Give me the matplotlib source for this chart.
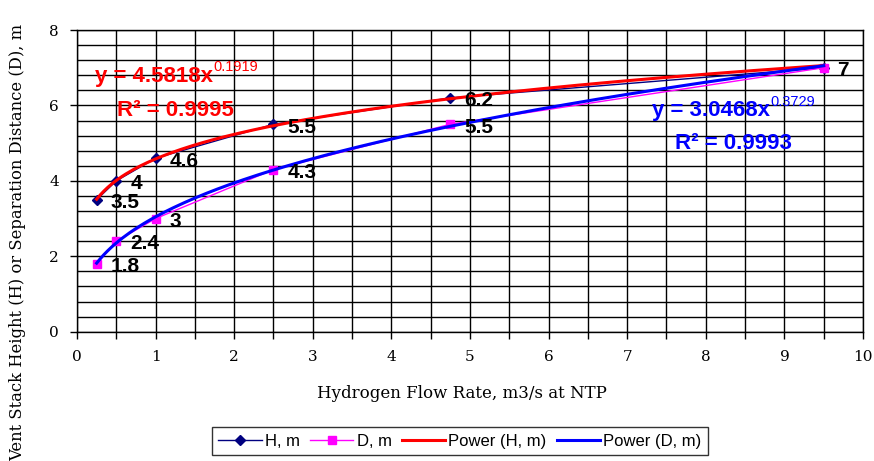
import numpy as np
import matplotlib.pyplot as plt
from matplotlib.ticker import MultipleLocator

# data
flow = [0.25, 0.5, 1, 2.5, 4.75, 9.5]
height_h = [3.5, 4, 4.6, 5.5, 6.2, 7]
dist_d = [1.8, 2.4, 3, 4.3, 5.5, 7]
h_labels = ["3.5", "4", "4.6", "5.5", "6.2", "7"]
d_labels = ["1.8", "2.4", "3", "4.3", "5.5", ""]

serif = "DejaVu Serif"
sans = "Liberation Sans"

fig = plt.figure(figsize=(8.74, 4.61), dpi=100)
ax = fig.add_axes([0.0881, 0.2805, 0.8993, 0.6544])

ax.plot(flow, height_h, color="#000080", lw=1, marker="D", ms=5, label="H, m")
ax.plot(flow, dist_d, color="#ff00ff", lw=1, marker="s", ms=6, label="D, m")

# power trendlines, fitted on log-log like excel does
xs = np.linspace(min(flow), max(flow), 200)
bh, lah = np.polyfit(np.log(flow), np.log(height_h), 1)
bd, lad = np.polyfit(np.log(flow), np.log(dist_d), 1)
ax.plot(xs, np.exp(lah) * xs ** bh, color="red", lw=2.2, label="Power (H, m)")
ax.plot(xs, np.exp(lad) * xs ** bd, color="blue", lw=2.2, label="Power (D, m)")

# data labels
for x, y, s in zip(flow, height_h, h_labels):
    ax.annotate(s, (x, y), xytext=(10, -2), textcoords="offset points",
                ha="left", va="center", fontsize=15, fontweight="bold", family=sans)
for x, y, s in zip(flow, dist_d, d_labels):
    if s:
        ax.annotate(s, (x, y), xytext=(10, -2), textcoords="offset points",
                    ha="left", va="center", fontsize=15, fontweight="bold", family=sans)

# equations
t1 = ax.text(0.23, 6.77, "y = 4.5818x", color="red", fontsize=16, fontweight="bold",
             family=sans, va="center", ha="left")
ax.annotate("0.1919", xy=(1, 0.6), xycoords=t1, va="bottom", ha="left",
            color="red", fontsize=10.5, family=sans)
ax.text(0.51, 5.86, "R² = 0.9995", color="red", fontsize=16, fontweight="bold",
        family=sans, va="center", ha="left")
t2 = ax.text(7.32, 5.86, "y = 3.0468x", color="blue", fontsize=16, fontweight="bold",
             family=sans, va="center", ha="left")
ax.annotate("0.3729", xy=(1, 0.6), xycoords=t2, va="bottom", ha="left",
            color="blue", fontsize=10.5, family=sans)
ax.text(7.61, 5.0, "R² = 0.9993", color="blue", fontsize=16, fontweight="bold",
        family=sans, va="center", ha="left")

ax.set_xlim(0, 10)
ax.set_ylim(0, 8)
ax.xaxis.set_major_locator(MultipleLocator(1))
ax.xaxis.set_minor_locator(MultipleLocator(0.5))
ax.yaxis.set_major_locator(MultipleLocator(2))
ax.yaxis.set_minor_locator(MultipleLocator(0.4))
ax.grid(True, which="both", color="black", lw=1)
ax.set_axisbelow(True)
ax.tick_params(axis="x", which="both", direction="out", length=5, width=1)
ax.tick_params(axis="y", which="major", direction="out", length=5, width=1)
ax.tick_params(axis="y", which="minor", length=0)
ax.tick_params(labelsize=11, pad=8)
for lab in ax.get_xticklabels() + ax.get_yticklabels():
    lab.set_family(serif)
for sp in ax.spines.values():
    sp.set_color("black")
    sp.set_linewidth(1)

fig.text(462 / 874, 1 - 393 / 461, "Hydrogen Flow Rate, m3/s at NTP", family=serif,
         fontsize=12, ha="center", va="center")
fig.text(18 / 874, 1 - 242 / 461, "Vent Stack Height (H) or Separation Distance (D), m",
         family=serif, fontsize=11.8, ha="center", va="center", rotation=90)

leg = fig.legend(loc="center", bbox_to_anchor=(460 / 874, 1 - 441 / 461), ncol=4,
                 prop={"family": sans, "size": 12}, frameon=True, fancybox=False,
                 edgecolor="black", handlelength=2.6, columnspacing=0.6,
                 handletextpad=0.2, borderpad=0.4)
leg.get_frame().set_linewidth(1)

fig.savefig("out.png", dpi=100)
